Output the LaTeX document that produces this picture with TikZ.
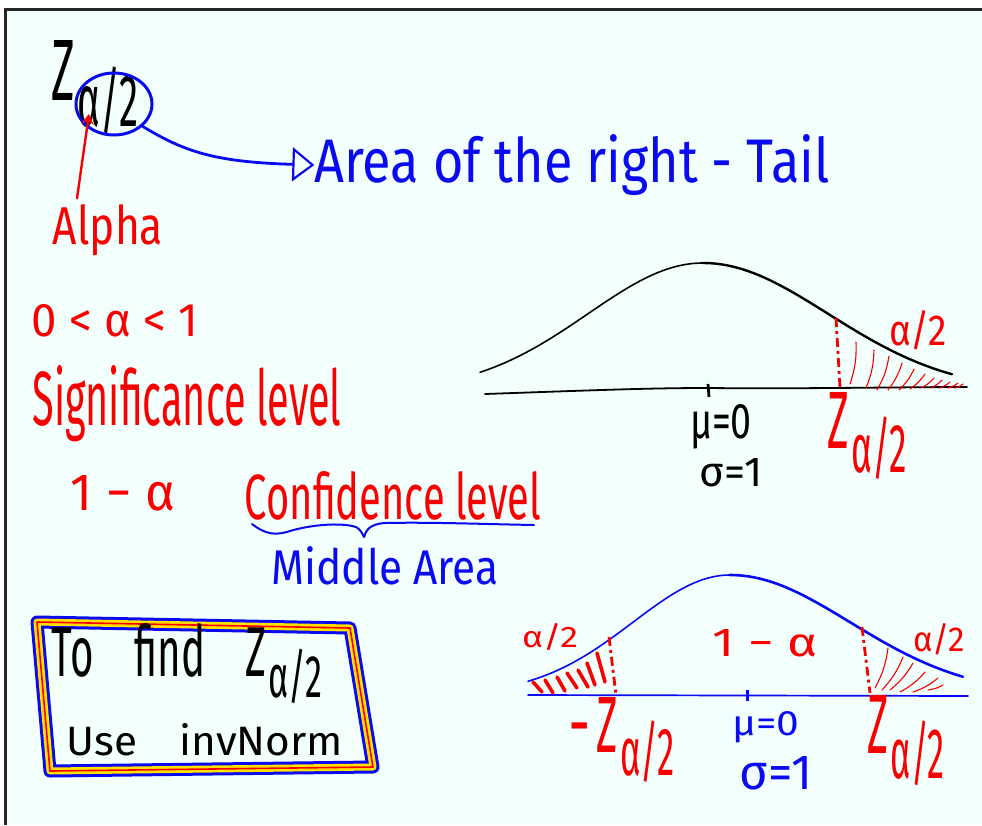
\documentclass[tikz,border=0pt]{standalone}
\usepackage{fontspec}
\setmainfont{Fira Sans}
\usetikzlibrary{shapes.geometric,arrows.meta}
\definecolor{bgc}{HTML}{F2FFFD}
\definecolor{pred}{HTML}{F80000}
\definecolor{pblue}{HTML}{0A0AF0}
\definecolor{pyellow}{HTML}{FFE000}
\newcommand{\fitbox}[3]{\resizebox{#1pt}{#2pt}{#3}}
\newcommand{\zhalf}{Z\kern0.05em\raisebox{-0.3em}{\scalebox{0.85}{α/2}}}
\begin{document}
\begin{tikzpicture}[x=1pt,y=-1pt,
  lbl/.style={inner sep=0pt, outer sep=0pt},
  pen/.style={line width=1.6pt, line cap=round, line join=round},
  hatchthin/.style={pred, line width=1.1pt, line cap=round},
  hatchthick/.style={pred, line width=3.6pt, line cap=round},
  dashdot/.style={pred, line width=2.8pt, dash pattern=on 9pt off 4pt on 3pt off 4pt}]
\useasboundingbox (0,0) rectangle (982,825);
\fill[white] (0,0) rectangle (982,825);
\fill[bgc] (5,9) rectangle (982,825);
\draw[line width=3pt, black!85] (5,825) -- (5,9) -- (982,9);

% ---- top-left: Z alpha/2 ----
\node[lbl] (zt) at (95,87) {\fitbox{86}{60}{\zhalf}};
\node[draw=pblue, ellipse, line width=3pt, minimum width=76pt, minimum height=62pt, inner sep=0pt] (circ) at (114,104) {};
\node[lbl, pblue] (area) at (572,165) {\fitbox{515}{48}{Area of the right - Tail}};
\draw[pblue, pen, line width=2.8pt, -{Triangle[open, length=22pt, width=34pt, line width=2.2pt]}]
  (circ.-38) .. controls (185,152) and (215,162) .. (area.west);
\node[lbl, pred] (alpha) at (108,230) {\fitbox{110}{40}{Alpha}};
\coordinate (atip) at (89,114);
\draw[pred, pen, line width=2.4pt, -{Stealth[length=10pt, width=12pt]}] ([xshift=-31pt,yshift=6pt]alpha.north) -- (atip);

% ---- left text ----
\node[lbl, pred] (ineq) at (115,321) {\fitbox{166}{32}{0 < α < 1}};
\node[lbl, pred] (sig) at (187,404) {\fitbox{309}{60}{Significance level}};
\node[lbl, pred] (onem) at (123,493) {\fitbox{104}{35}{1 − α}};
\node[lbl, pred] (conf) at (393,496) {\fitbox{296}{48}{Confidence level}};
\draw[pblue, pen, line width=2pt] (252,524) .. controls (265,534) and (275,536) .. (290,531)
  .. controls (310,525) and (340,522) .. (356,527)
  .. controls (360,529) and (362,533) .. (364,537)
  .. controls (366,530) and (370,524) .. (385,523)
  .. controls (430,522) and (480,524) .. (534,525);
\node[lbl, pblue] (mid) at (385,566) {\fitbox{227}{38}{Middle Area}};

% ---- top graph ----
\draw[black, pen, line width=1.6pt] plot[domain=480:703, samples=50] (\x,{392-129*exp(-0.5*((\x-703)/115)^2)});
\draw[black, pen, line width=2.4pt] plot[domain=703:952, samples=50] (\x,{392-129*exp(-0.5*((\x-703)/125)^2)});
\draw[black, pen, line width=1.8pt] (485,394) .. controls (600,390) and (650,388) .. (708,388)
  .. controls (800,389) and (900,387) .. (967,387);
\draw[black, line width=2.8pt] (708,384) -- (709,397);
\draw[dashdot] (836,318) -- (840,388);
\foreach \ax/\ay/\bx/\by in {850/384/856/342, 866/388/874/350, 877/390/889/356, 888/390/902/363,
  899/390/914/369, 910/389/925/374, 921/388/934/378, 931/388/942/380, 940/388/950/382,
  948/388/958/383, 955/388/963/384}
  \draw[hatchthin] (\ax,\ay) to[bend right=10] (\bx,\by);
\node[lbl, pred] (ta) at (918,330) {\fitbox{58}{35}{α/2}};
\node[lbl, pred] (tz) at (867,436) {\fitbox{79}{56}{\zhalf}};
\node[lbl] (tmu) at (721,427) {\fitbox{62}{34}{μ=0}};
\node[lbl] (tsig) at (731,473) {\fitbox{63}{28}{σ=1}};

% ---- bottom graph ----
\draw[pblue, pen, line width=1.6pt] plot[domain=528:730, samples=50] (\x,{695-120*exp(-0.5*((\x-730)/97)^2)});
\draw[pblue, pen, line width=2.6pt] plot[domain=730:963, samples=50] (\x,{695-120*exp(-0.5*((\x-730)/120)^2)});
\draw[pblue, pen, line width=1.7pt] (528,695) -- (968,696);
\draw[pblue, line width=3pt] (747,690) -- (747,701);
\draw[dashdot] (609,637) -- (616,695);
\draw[dashdot] (862,627) -- (870,693);
\foreach \ax/\ay/\bx/\by in {533/682/542/692, 545/680/553/693, 557/677/565/691, 567/673/577/688,
  578/670/588/687, 587/663/595/685, 597/653/605/682}
  \draw[hatchthick] (\ax,\ay) -- (\bx,\by);
\foreach \ax/\ay/\bx/\by in {875/688/888/648, 882/690/903/657, 890/690/913/663, 900/692/925/672,
  913/692/938/678, 928/690/943/685}
  \draw[hatchthin] (\ax,\ay) to[bend right=10] (\bx,\by);
\node[lbl, pred] (ba) at (550,637) {\fitbox{56}{24}{α/2}};
\node[lbl, pred] (bmid) at (765,643) {\fitbox{105}{27}{1 − α}};
\node[lbl, pred] (bb) at (939,639) {\fitbox{52}{28}{α/2}};
\node[lbl, pred] (bnz) at (622,740) {\fitbox{105}{55}{−\,\zhalf}};
\node[lbl, pblue] (bmu) at (766,727) {\fitbox{67}{24}{μ=0}};
\node[lbl, pblue] (bsig) at (776,773) {\fitbox{73}{33}{σ=1}};
\node[lbl, pred] (bz) at (906,741) {\fitbox{77}{58}{\zhalf}};

% ---- framed box ----
\draw[pblue, line width=13pt, line join=round] (37,622) -- (350,628) -- (373,767) -- (50,771) -- cycle;
\draw[pyellow, line width=7pt, line join=round] (37,622) -- (350,628) -- (373,767) -- (50,771) -- cycle;
\draw[pred, line width=1.6pt, line join=round] (37,622) -- (350,628) -- (373,767) -- (50,771) -- cycle;
\node[lbl] (tofind) at (187,664) {\fitbox{270}{53}{To\quad find\quad \zhalf}};
\node[lbl] (use) at (205,740) {\fitbox{276}{32}{Use\quad invNorm}};
\end{tikzpicture}
\end{document}
